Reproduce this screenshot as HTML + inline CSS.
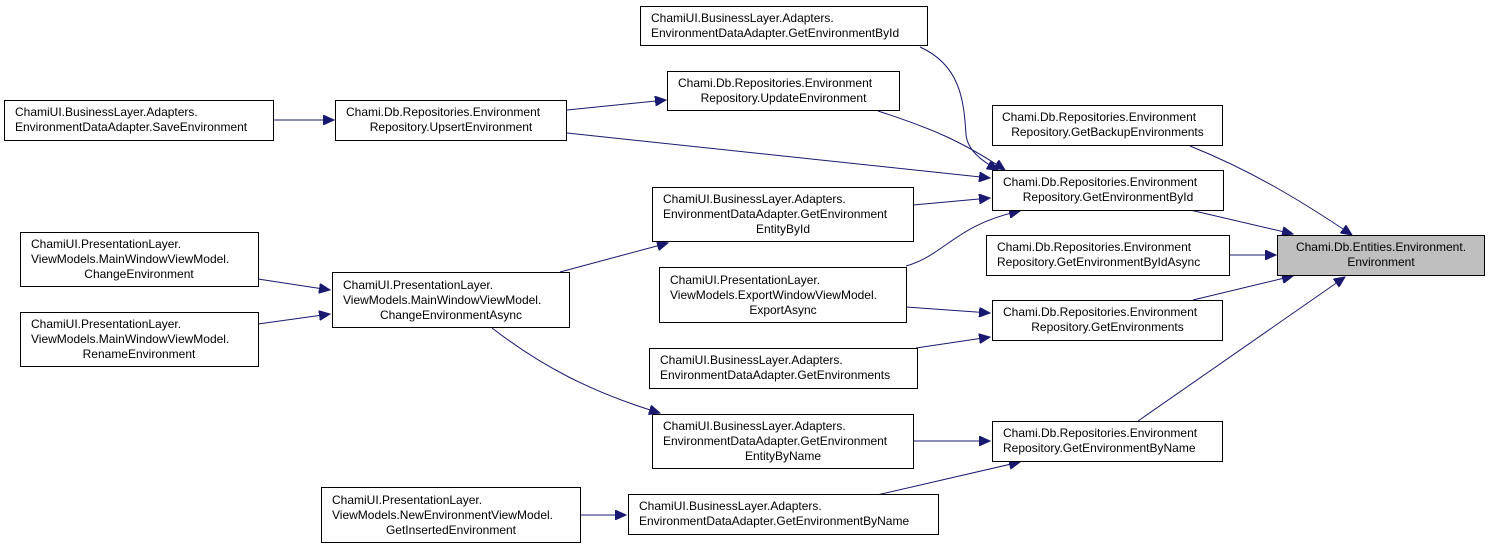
<!DOCTYPE html>
<html><head><meta charset="utf-8"><style>
html,body{margin:0;padding:0;background:#fff;}
svg{display:block;}
text{font-family:"Liberation Sans",Arial,sans-serif;font-size:12px;fill:#000;}
rect{fill:#fff;stroke:#000;stroke-width:1;}
path.e{fill:none;stroke:#191970;stroke-width:1;}
</style></head><body>
<svg width="1489" height="549" viewBox="0 0 1489 549" xmlns="http://www.w3.org/2000/svg">
<defs><marker id="a" markerWidth="12" markerHeight="10" refX="11" refY="5" orient="auto" markerUnits="userSpaceOnUse"><path d="M0,0 L11,5 L0,10 Z" fill="#191970" stroke="#191970"/></marker></defs>

<!-- edges -->
<path class="e" marker-end="url(#a)" d="M274,120 L334,120"/>
<path class="e" marker-end="url(#a)" d="M567,110 L666,100"/>
<path class="e" marker-end="url(#a)" d="M567,133 L990,178"/>
<path class="e" marker-end="url(#a)" d="M878,111 C930,128 960,140 1005,170"/>
<path class="e" marker-end="url(#a)" d="M920,47 C960,65 964,100 966,135 C968,150 980,160 998,170"/>
<path class="e" marker-end="url(#a)" d="M913,205 L990,198"/>
<path class="e" marker-end="url(#a)" d="M906,266 C945,255 955,225 1020,211"/>
<path class="e" marker-end="url(#a)" d="M258,279 L330,290"/>
<path class="e" marker-end="url(#a)" d="M258,324 L330,314"/>
<path class="e" marker-end="url(#a)" d="M560,272 L668,243"/>
<path class="e" marker-end="url(#a)" d="M492,328 C540,365 590,392 660,413"/>
<path class="e" marker-end="url(#a)" d="M906,307 L990,313"/>
<path class="e" marker-end="url(#a)" d="M916,348 L990,337"/>
<path class="e" marker-end="url(#a)" d="M913,441 L990,441"/>
<path class="e" marker-end="url(#a)" d="M877,495 L1020,462"/>
<path class="e" marker-end="url(#a)" d="M580,515 L626,515"/>
<path class="e" marker-end="url(#a)" d="M1190,146 C1250,170 1300,200 1352,235"/>
<path class="e" marker-end="url(#a)" d="M1190,210 L1293,234"/>
<path class="e" marker-end="url(#a)" d="M1229,255 L1276,255"/>
<path class="e" marker-end="url(#a)" d="M1193,300 L1293,276"/>
<path class="e" marker-end="url(#a)" d="M1138,421 L1345,277"/>

<!-- nodes -->
<rect x="640.5" y="6.5" width="287" height="39"/>
<text x="651" y="22">ChamiUI.BusinessLayer.Adapters.</text>
<text x="651" y="37">EnvironmentDataAdapter.GetEnvironmentById</text>

<rect x="667.5" y="71.5" width="232" height="39"/>
<text x="678" y="87">Chami.Db.Repositories.Environment</text>
<text x="783.5" y="102" text-anchor="middle">Repository.UpdateEnvironment</text>

<rect x="992.5" y="105.5" width="230" height="40"/>
<text x="1002" y="121">Chami.Db.Repositories.Environment</text>
<text x="1107.5" y="136" text-anchor="middle">Repository.GetBackupEnvironments</text>

<rect x="4.5" y="100.5" width="269" height="40"/>
<text x="15" y="116">ChamiUI.BusinessLayer.Adapters.</text>
<text x="15" y="131">EnvironmentDataAdapter.SaveEnvironment</text>

<rect x="335.5" y="100.5" width="231" height="40"/>
<text x="346" y="116">Chami.Db.Repositories.Environment</text>
<text x="451" y="131" text-anchor="middle">Repository.UpsertEnvironment</text>

<rect x="992.5" y="170.5" width="231" height="40"/>
<text x="1003" y="186">Chami.Db.Repositories.Environment</text>
<text x="1108" y="201" text-anchor="middle">Repository.GetEnvironmentById</text>

<rect x="652.5" y="187.5" width="261" height="54"/>
<text x="663" y="203">ChamiUI.BusinessLayer.Adapters.</text>
<text x="663" y="218">EnvironmentDataAdapter.GetEnvironment</text>
<text x="783" y="233" text-anchor="middle">EntityById</text>

<rect x="986.5" y="235.5" width="243" height="40" />
<text x="997" y="251">Chami.Db.Repositories.Environment</text>
<text x="997" y="266">Repository.GetEnvironmentByIdAsync</text>

<rect x="1277.5" y="235.5" width="207" height="40" style="fill:#bfbfbf"/>
<text x="1381" y="251" text-anchor="middle">Chami.Db.Entities.Environment.</text>
<text x="1381" y="266" text-anchor="middle">Environment</text>

<rect x="20.5" y="232.5" width="238" height="54"/>
<text x="31" y="248">ChamiUI.PresentationLayer.</text>
<text x="31" y="263">ViewModels.MainWindowViewModel.</text>
<text x="139" y="278" text-anchor="middle">ChangeEnvironment</text>

<rect x="332.5" y="272.5" width="237" height="55"/>
<text x="343" y="289">ChamiUI.PresentationLayer.</text>
<text x="343" y="304">ViewModels.MainWindowViewModel.</text>
<text x="451" y="319" text-anchor="middle">ChangeEnvironmentAsync</text>

<rect x="659.5" y="267.5" width="247" height="55"/>
<text x="670" y="284">ChamiUI.PresentationLayer.</text>
<text x="670" y="299">ViewModels.ExportWindowViewModel.</text>
<text x="783" y="314" text-anchor="middle">ExportAsync</text>

<rect x="20.5" y="312.5" width="238" height="54"/>
<text x="31" y="328">ChamiUI.PresentationLayer.</text>
<text x="31" y="343">ViewModels.MainWindowViewModel.</text>
<text x="139" y="358" text-anchor="middle">RenameEnvironment</text>

<rect x="992.5" y="300.5" width="230" height="40"/>
<text x="1003" y="316">Chami.Db.Repositories.Environment</text>
<text x="1107.5" y="331" text-anchor="middle">Repository.GetEnvironments</text>

<rect x="649.5" y="348.5" width="268" height="40"/>
<text x="660" y="364">ChamiUI.BusinessLayer.Adapters.</text>
<text x="660" y="379">EnvironmentDataAdapter.GetEnvironments</text>

<rect x="652.5" y="414.5" width="261" height="54"/>
<text x="663" y="430">ChamiUI.BusinessLayer.Adapters.</text>
<text x="663" y="445">EnvironmentDataAdapter.GetEnvironment</text>
<text x="783" y="460" text-anchor="middle">EntityByName</text>

<rect x="992.5" y="421.5" width="230" height="40"/>
<text x="1003" y="437">Chami.Db.Repositories.Environment</text>
<text x="1003" y="452">Repository.GetEnvironmentByName</text>

<rect x="321.5" y="487.5" width="259" height="55"/>
<text x="332" y="504">ChamiUI.PresentationLayer.</text>
<text x="332" y="519">ViewModels.NewEnvironmentViewModel.</text>
<text x="451" y="534" text-anchor="middle">GetInsertedEnvironment</text>

<rect x="628.5" y="494.5" width="310" height="40"/>
<text x="639" y="510">ChamiUI.BusinessLayer.Adapters.</text>
<text x="639" y="525">EnvironmentDataAdapter.GetEnvironmentByName</text>
</svg>
</body></html>
